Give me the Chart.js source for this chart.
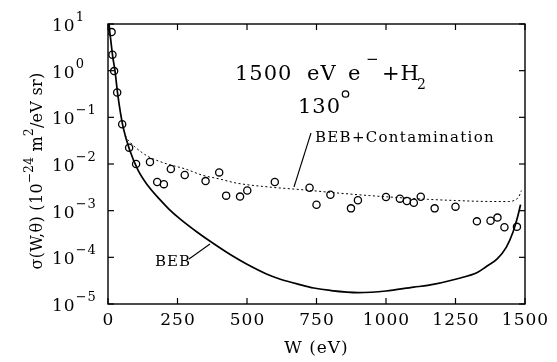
<!DOCTYPE html>
<html>
<head>
<meta charset="utf-8">
<script src="https://cdn.jsdelivr.net/npm/chart.js@4"></script>
<style>
  html, body { margin: 0; padding: 0; background: #fff; }
  canvas { display: block; }
</style>
</head>
<body>
<canvas id="chart" width="557" height="362"></canvas>
<script>
// Measured doubly differential cross sections, 1500 eV e- + H2 at 130 degrees
const measW = [13, 16, 22, 33, 51, 76, 101, 151, 177, 201, 226, 276, 351, 400, 425, 475, 501, 600,
               725, 750, 800, 874, 899, 1000, 1050, 1075, 1100, 1125, 1175, 1250, 1327, 1376, 1401, 1426, 1471];
const measSigma = [6.7, 2.2, 0.98, 0.34, 0.071, 0.0224, 0.010, 0.011, 0.0041, 0.0037, 0.0078, 0.0058, 0.0043, 0.0066,
                   0.0021, 0.0020, 0.0027, 0.0041, 0.0031, 0.00134, 0.0022, 0.00112, 0.00167, 0.00196, 0.00181,
                   0.00161, 0.00148, 0.00199, 0.00112, 0.00122, 0.00059, 0.00061, 0.00071, 0.00044, 0.00045];

// BEB model curve
const bebW = [1, 4, 10, 17, 25, 36, 54, 78, 108, 144, 186, 220, 260, 320, 378, 450, 500, 570, 620, 690, 740,
              800, 900, 1000, 1100, 1150, 1250, 1330, 1360, 1400, 1433, 1457, 1470, 1478, 1484];
const bebSigma = [25, 10, 4.5, 2.0, 1.0, 0.28, 0.063, 0.020, 0.0074, 0.0034, 0.00174, 0.00107, 6.6e-4, 3.5e-4,
                  2.0e-4, 1.05e-4, 7.1e-5, 4.4e-5, 3.4e-5, 2.6e-5, 2.2e-5, 1.95e-5, 1.76e-5, 1.9e-5, 2.3e-5,
                  2.5e-5, 3.4e-5, 4.8e-5, 6.3e-5, 9.3e-5, 1.66e-4, 3.5e-4, 6.2e-4, 9.5e-4, 1.35e-3];

// BEB plus contamination curve
const contW = [54, 65, 80, 96, 120, 144, 204, 276, 342, 400, 462, 582, 702, 822, 942, 1050, 1150, 1250,
               1350, 1440, 1465, 1478, 1487];
const contSigma = [0.063, 0.038, 0.029, 0.0235, 0.018, 0.0145, 0.0104, 0.0079, 0.0057, 0.0048, 0.0039, 0.0032,
                   0.0028, 0.0024, 0.0021, 0.0019, 0.00175, 0.00165, 0.00158, 0.00157, 0.0017, 0.0020, 0.0027];

// Axis ticks
const xTickValues = [0, 250, 500, 750, 1000, 1250, 1500];
const yTickExponents = [1, 0, -1, -2, -3, -4, -5];

const toPoints = (xs, ys) => xs.map((v, i) => ({ x: v, y: ys[i] }));

const SERIF = '"DejaVu Serif", "Liberation Serif", serif';

function setFont(ctx, size, spacing) {
  ctx.font = size + 'px ' + SERIF;
  if ('letterSpacing' in ctx) ctx.letterSpacing = (spacing || 0) + 'px';
}
function drawSegments(ctx, x, y, segs, spacing) {
  // segs: [text, fontSize, baselineShift]; drawn left to right from (x, y)
  let cx = x;
  for (const [txt, size, dy] of segs) {
    setFont(ctx, size, spacing);
    ctx.fillText(txt, cx, y + dy);
    cx += ctx.measureText(txt).width;
  }
  return cx - x;
}
function segWidth(ctx, segs, spacing) {
  let w = 0;
  for (const [txt, size] of segs) {
    setFont(ctx, size, spacing);
    w += ctx.measureText(txt).width;
  }
  return w;
}
function line(ctx, x1, y1, x2, y2) {
  ctx.beginPath(); ctx.moveTo(x1, y1); ctx.lineTo(x2, y2); ctx.stroke();
}

const framePlugin = {
  id: 'frameAndText',
  afterDraw(chart) {
    const { ctx, chartArea: a, scales: { x, y } } = chart;
    ctx.save();
    ctx.strokeStyle = '#000';
    ctx.fillStyle = '#000';
    ctx.textBaseline = 'alphabetic';
    ctx.textAlign = 'left';

    // frame
    ctx.lineWidth = 1.4;
    ctx.strokeRect(a.left, a.top, a.right - a.left, a.bottom - a.top);

    // inward ticks on all four sides
    ctx.lineWidth = 1.2;
    const tl = 6;
    xTickValues.forEach(v => {
      const px = x.getPixelForValue(v);
      line(ctx, px, a.bottom, px, a.bottom - tl);
      line(ctx, px, a.top, px, a.top + tl);
    });
    yTickExponents.forEach(e => {
      const py = y.getPixelForValue(Math.pow(10, e));
      line(ctx, a.left, py, a.left + tl, py);
      line(ctx, a.right, py, a.right - tl, py);
    });

    // x tick labels
    setFont(ctx, 17, 1);
    xTickValues.forEach(v => {
      const px = x.getPixelForValue(v);
      const t = String(v);
      const w = ctx.measureText(t).width;
      ctx.fillText(t, px - w / 2 + 0.5, a.bottom + 21);
    });

    // y tick labels: 10 with raised exponent
    yTickExponents.forEach(e => {
      const py = y.getPixelForValue(Math.pow(10, e));
      const exp = e < 0 ? '\u2212' + Math.abs(e) : String(e);
      drawSegments(ctx, 52, py + 7, [['10', 17, 0], [exp, 13, -10]], 1);
    });

    // x axis title
    setFont(ctx, 17, 1);
    const xt = 'W (eV)';
    const xtw = ctx.measureText(xt).width;
    ctx.fillText(xt, (a.left + a.right) / 2 - xtw / 2, 353);

    // y axis title (rotated)
    const ySegs = [['\u03C3(W,\u03B8) (10', 16, 0], ['\u221224', 12, -9], [' m', 16, 0], ['2', 12, -9], ['/eV sr)', 16, 0]];
    ctx.save();
    ctx.translate(42, 171);
    ctx.rotate(-Math.PI / 2);
    const yw = segWidth(ctx, ySegs, 0.3);
    drawSegments(ctx, -yw / 2, 0, ySegs, 0.3);
    ctx.restore();

    // reaction label
    drawSegments(ctx, 235, 80, [['1500', 21, 0]], 1);
    drawSegments(ctx, 307, 80, [['eV', 21, 0]], 1);
    drawSegments(ctx, 348, 80, [['e', 21, 0]], 1);
    drawSegments(ctx, 366, 64, [['\u2212', 15, 0]], 0);
    drawSegments(ctx, 382, 80, [['+H', 21, 0]], 1);
    drawSegments(ctx, 417, 89, [['2', 14, 0]], 0);
    drawSegments(ctx, 298, 113, [['130', 21, 0]], 1);
    ctx.lineWidth = 1.3;
    ctx.beginPath(); ctx.arc(345.5, 94, 3.2, 0, Math.PI * 2); ctx.stroke();

    // curve labels with leader lines
    drawSegments(ctx, 315, 142, [['BEB+Contamination', 15, 0]], 1.3);
    drawSegments(ctx, 155, 266, [['BEB', 15, 0]], 1);
    ctx.lineWidth = 1.1;
    line(ctx, 311, 133, 294, 187);
    line(ctx, 189, 259, 210, 244);

    ctx.restore();
  }
};

new Chart(document.getElementById('chart'), {
  type: 'scatter',
  data: {
    datasets: [
      {
        label: 'Measured',
        data: toPoints(measW, measSigma),
        showLine: false,
        pointStyle: 'circle',
        pointRadius: 3.6,
        pointBorderWidth: 1.3,
        pointBorderColor: '#000',
        pointBackgroundColor: 'rgba(0,0,0,0)',
        order: 0
      },
      {
        label: 'BEB',
        data: toPoints(bebW, bebSigma),
        showLine: true,
        borderColor: '#000',
        borderWidth: 1.7,
        pointRadius: 0,
        cubicInterpolationMode: 'monotone',
        order: 1
      },
      {
        label: 'BEB+Contamination',
        data: toPoints(contW, contSigma),
        showLine: true,
        borderColor: '#000',
        borderWidth: 1,
        borderDash: [2, 2.5],
        pointRadius: 0,
        cubicInterpolationMode: 'monotone',
        order: 2
      }
    ]
  },
  options: {
    responsive: false,
    devicePixelRatio: 1,
    animation: false,
    layout: { padding: { left: 108, right: 32, top: 24, bottom: 58 } },
    plugins: { legend: { display: false }, tooltip: { enabled: false } },
    scales: {
      x: { type: 'linear', min: 0, max: 1500, display: false },
      y: { type: 'logarithmic', min: 1e-5, max: 10, display: false }
    }
  },
  plugins: [framePlugin]
});
</script>
</body>
</html>
